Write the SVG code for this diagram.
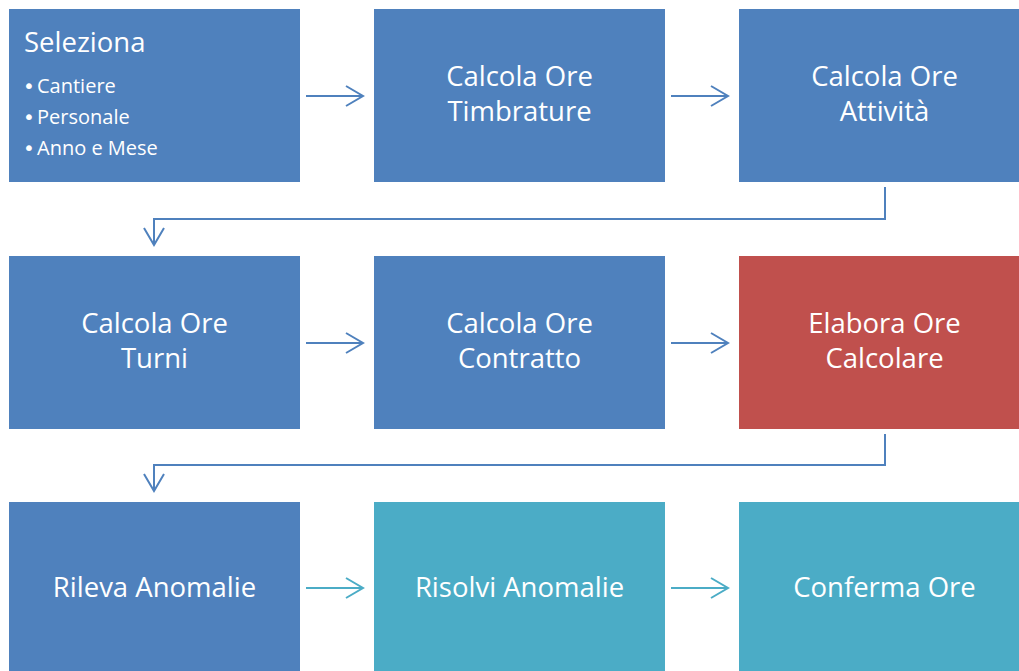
<svg xmlns="http://www.w3.org/2000/svg" width="1019" height="671" viewBox="0 0 1019 671">
  <style>
    .box { stroke: none; }
    .blue { fill: #4F81BD; }
    .red { fill: #C0504D; }
    .teal { fill: #4BACC6; }
    .label { font-family: "Open Sans", "Noto Sans", "DejaVu Sans", sans-serif; fill: #FFFFFF; font-size: 27.5px; text-anchor: middle; }
    .title { font-family: "Open Sans", "Noto Sans", "DejaVu Sans", sans-serif; fill: #FFFFFF; font-size: 27.5px; }
    .bullet { font-family: "Open Sans", "Noto Sans", "DejaVu Sans", sans-serif; fill: #FFFFFF; font-size: 20px; }
    .dot { font-family: "DejaVu Sans", sans-serif; font-size: 20px; }
    .conn { fill: none; stroke-width: 2; }
    .conn-blue { stroke: #4F81BD; marker-end: url(#chev-blue); }
    .conn-teal { stroke: #4BACC6; marker-end: url(#chev-teal); }
  </style>
  <defs>
    <marker id="chev-blue" markerUnits="userSpaceOnUse" viewBox="-20 -12 22 24" refX="0" refY="0" markerWidth="22" markerHeight="24" orient="auto">
      <polyline points="-17,-10 0,0 -17,10" fill="none" stroke="#4F81BD" stroke-width="2"/>
    </marker>
    <marker id="chev-teal" markerUnits="userSpaceOnUse" viewBox="-20 -12 22 24" refX="0" refY="0" markerWidth="22" markerHeight="24" orient="auto">
      <polyline points="-17,-10 0,0 -17,10" fill="none" stroke="#4BACC6" stroke-width="2"/>
    </marker>
  </defs>

  <rect width="1019" height="671" fill="#FFFFFF"/>

  <!-- Row 1 -->
  <g id="seleziona">
    <rect class="box blue" x="9" y="9" width="291" height="173"/>
    <text class="title" x="24" y="52">Seleziona</text>
    <text class="bullet" x="23" y="93"><tspan class="dot">•</tspan><tspan x="37">Cantiere</tspan></text>
    <text class="bullet" x="23" y="124"><tspan class="dot">•</tspan><tspan x="37">Personale</tspan></text>
    <text class="bullet" x="23" y="155"><tspan class="dot">•</tspan><tspan x="37">Anno e Mese</tspan></text>
  </g>
  <g id="calcola-ore-timbrature">
    <rect class="box blue" x="374" y="9" width="291" height="173"/>
    <text class="label" x="519.5" y="86">Calcola Ore</text>
    <text class="label" x="519.5" y="121">Timbrature</text>
  </g>
  <g id="calcola-ore-attivita">
    <rect class="box blue" x="739" y="9" width="291" height="173"/>
    <text class="label" x="884.5" y="86">Calcola Ore</text>
    <text class="label" x="884.5" y="121">Attività</text>
  </g>

  <!-- Row 2 -->
  <g id="calcola-ore-turni">
    <rect class="box blue" x="9" y="256" width="291" height="173"/>
    <text class="label" x="154.5" y="333">Calcola Ore</text>
    <text class="label" x="154.5" y="368">Turni</text>
  </g>
  <g id="calcola-ore-contratto">
    <rect class="box blue" x="374" y="256" width="291" height="173"/>
    <text class="label" x="519.5" y="333">Calcola Ore</text>
    <text class="label" x="519.5" y="368">Contratto</text>
  </g>
  <g id="elabora-ore-calcolare">
    <rect class="box red" x="739" y="256" width="291" height="173"/>
    <text class="label" x="884.5" y="333">Elabora Ore</text>
    <text class="label" x="884.5" y="368">Calcolare</text>
  </g>

  <!-- Row 3 -->
  <g id="rileva-anomalie">
    <rect class="box blue" x="9" y="502" width="291" height="173"/>
    <text class="label" x="154.5" y="597">Rileva Anomalie</text>
  </g>
  <g id="risolvi-anomalie">
    <rect class="box teal" x="374" y="502" width="291" height="173"/>
    <text class="label" x="519.5" y="597">Risolvi Anomalie</text>
  </g>
  <g id="conferma-ore">
    <rect class="box teal" x="739" y="502" width="291" height="173"/>
    <text class="label" x="884.5" y="597">Conferma Ore</text>
  </g>

  <!-- Connectors -->
  <g id="connectors">
    <line class="conn conn-blue" x1="306" y1="96" x2="363" y2="96"/>
    <line class="conn conn-blue" x1="671" y1="96" x2="728" y2="96"/>
    <polyline class="conn conn-blue" points="885,187 885,219 154,219 154,245"/>
    <line class="conn conn-blue" x1="306" y1="343" x2="363" y2="343"/>
    <line class="conn conn-blue" x1="671" y1="343" x2="728" y2="343"/>
    <polyline class="conn conn-blue" points="885,434 885,465 154,465 154,491"/>
    <line class="conn conn-teal" x1="306" y1="588" x2="363" y2="588"/>
    <line class="conn conn-teal" x1="671" y1="588" x2="728" y2="588"/>
  </g>
</svg>
